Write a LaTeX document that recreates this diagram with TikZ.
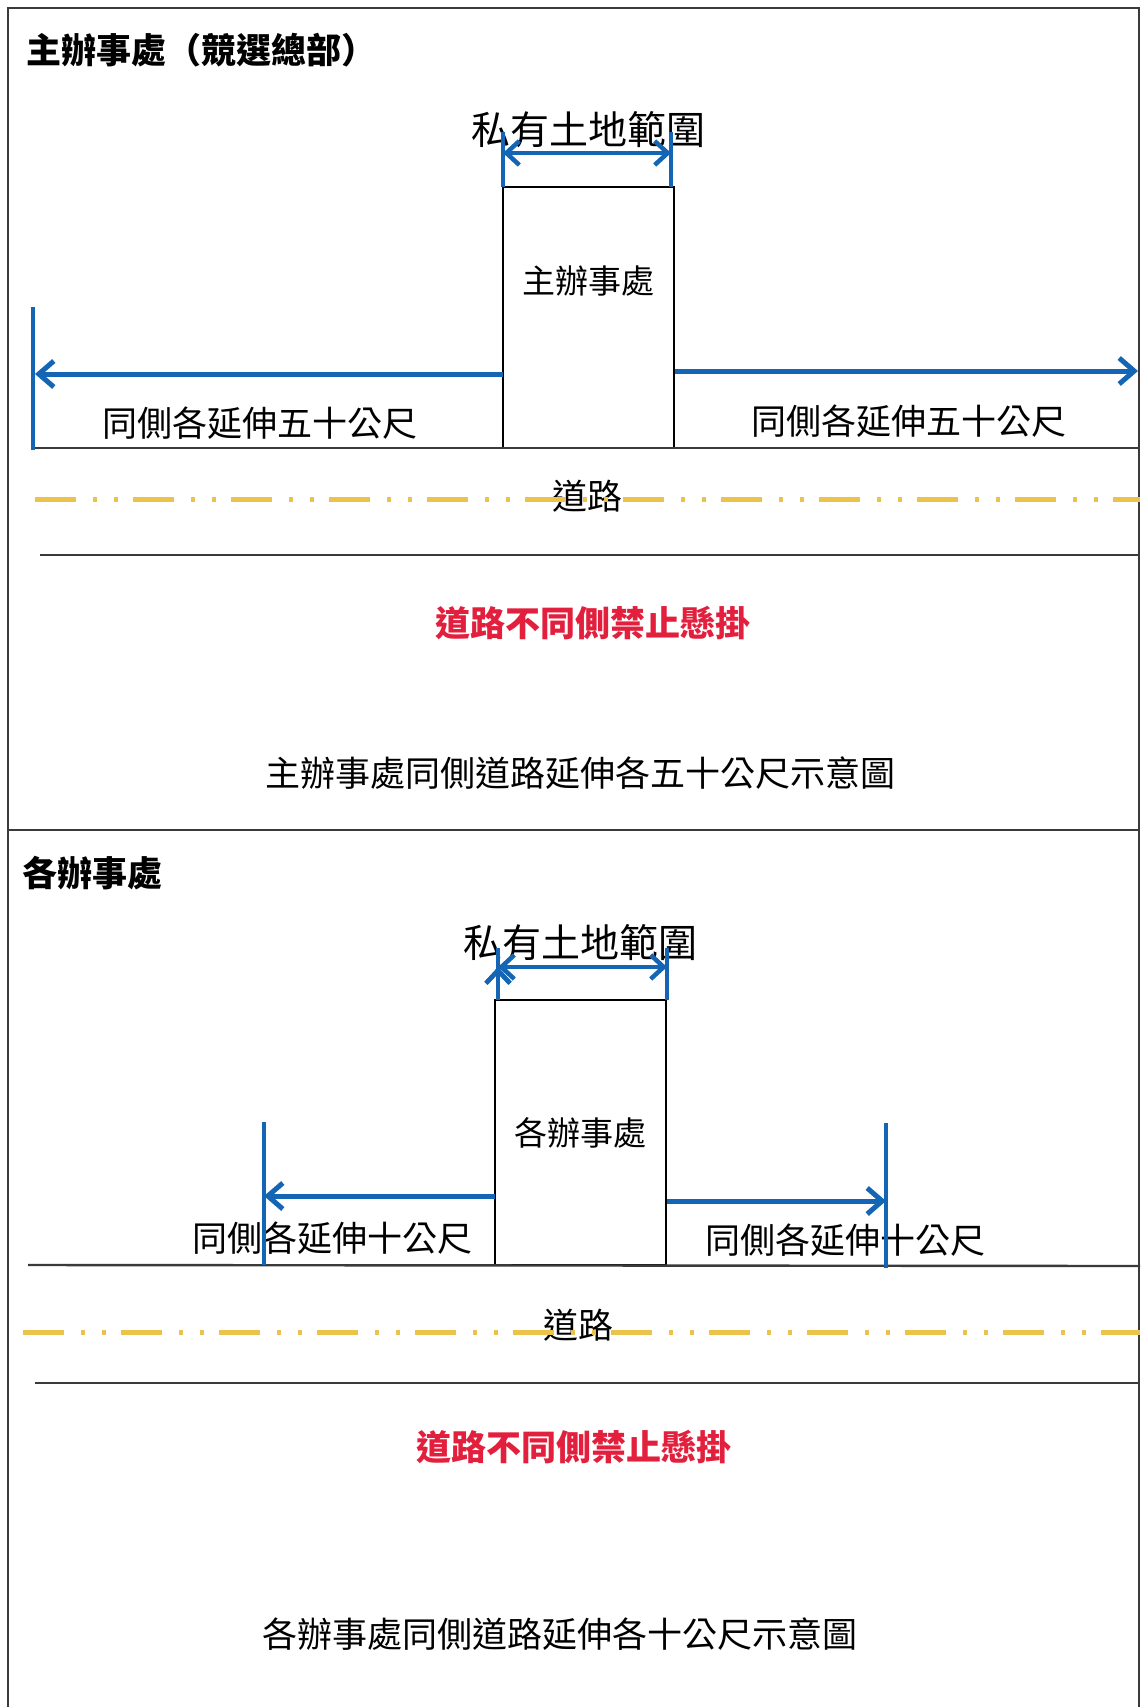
\documentclass[tikz,border=0pt]{standalone}
\usepackage{fontspec}
\usepackage{xcolor}
\usetikzlibrary{arrows.meta,positioning}
\newfontfamily\cjk{Noto Sans CJK TC}
\definecolor{lineBlue}{HTML}{1466B5}
\definecolor{roadGold}{HTML}{EBC24A}
\definecolor{warnRed}{HTML}{E2203E}
\definecolor{roadGrey}{HTML}{3A3A3A}

\begin{document}
\begin{tikzpicture}[x=1pt, y=-1pt,
        txt/.style={font=\cjk\fontsize{35}{38}\selectfont, inner sep=0},
        boxtxt/.style={font=\cjk\fontsize{33}{36}\selectfont, inner sep=0},
        landtxt/.style={font=\cjk\fontsize{39}{42}\selectfont, inner sep=0},
        headtxt/.style={font=\cjk\bfseries\fontsize{35}{38}\selectfont, inner sep=0, anchor=west},
        warntxt/.style={font=\cjk\bfseries\fontsize{35}{38}\selectfont, inner sep=0, text=warnRed},
        office/.style={draw=black, line width=1.6, inner sep=0, minimum width=171},
        tick/.style={draw=lineBlue, line width=4},
        reach/.style={draw=lineBlue, line width=5, -{Straight Barb[length=15, width=26]}},
        span/.style={draw=lineBlue, line width=4.5, {Straight Barb[length=13, width=24]}-{Straight Barb[length=13, width=24]}},
        road/.style={draw=roadGrey, line width=2.4},
        mid/.style={draw=roadGold, line width=5, dash pattern=on 41pt off 17pt on 4pt off 17pt on 4pt off 15pt},
        frame/.style={draw=roadGrey, line width=1.5}
    ]
                \useasboundingbox (0,0) rectangle (1140,1707);

                % frame and divider
                \coordinate (f1) at (8,1707);
                \coordinate (f2) at (8,8);
                \coordinate (f3) at (1139,8);
                \coordinate (f4) at (1139,1707);
                \coordinate (d1) at (8,830);
                \coordinate (d2) at (1139,830);
                \draw[frame] (f1) -- (f2) -- (f3) -- (f4);
                \draw[frame] (d1) -- (d2);

                % upper panel
                \node[headtxt] (title1) at (26,50) {主辦事處（競選總部）};
                \node[office, minimum height=261] (box1) at (588.5,317.5) {};
                \node[boxtxt] (name1) [below=79pt of box1.north] {主辦事處};
                \node[landtxt] (land1) [above=38pt of box1.north] {私有土地範圍};

                \coordinate (lt1) at (503,132);
                \coordinate (lb1) at (503,187);
                \coordinate (rt1) at (671,132);
                \coordinate (rb1) at (671,187);
                \coordinate (sl1) at (503,153);
                \coordinate (sr1) at (671,153);
                \coordinate (et1) at (33,307);
                \coordinate (eb1) at (33,450);
                \coordinate (ea1) at (503,374);
                \coordinate (ez1) at (35,374);
                \coordinate (fa1) at (675,371);
                \coordinate (fz1) at (1138,371);

                \node[txt] (left1) at (260,423) {同側各延伸五十公尺};
                \node[txt] (right1) at (909,421) {同側各延伸五十公尺};

                \coordinate (ra1) at (33,448);
                \coordinate (rz1) at (1140,448);
                \coordinate (ya1) at (35,499);
                \coordinate (yz1) at (1140,499);
                \coordinate (ba1) at (40,555);
                \coordinate (bz1) at (1140,555);
                \node[txt] (way1) at (587,496) {道路};
                \node[warntxt] (ban1) at (593,623) {道路不同側禁止懸掛};
                \node[txt] (cap1) at (580,773) {主辦事處同側道路延伸各五十公尺示意圖};

                % lower panel
                \node[headtxt] (title2) at (22,873) {各辦事處};
                \node[office, minimum height=265] (box2) at (580.5,1132.5) {};
                \node[boxtxt] (name2) [below=118pt of box2.north] {各辦事處};
                \node[landtxt] (land2) [above=38pt of box2.north] {私有土地範圍};

                \coordinate (lt2) at (498,948);
                \coordinate (lb2) at (498,1000);
                \coordinate (rt2) at (667,948);
                \coordinate (rb2) at (667,1000);
                \coordinate (sl2) at (498,967);
                \coordinate (sr2) at (667,967);
                \coordinate (et2) at (264,1122);
                \coordinate (eb2) at (264,1265);
                \coordinate (ft2) at (886,1123);
                \coordinate (fb2) at (886,1268);
                \coordinate (ea2) at (495,1196);
                \coordinate (ez2) at (264,1196);
                \coordinate (fa2) at (667,1201);
                \coordinate (fz2) at (886,1201);

                \node[txt] (left2) at (332,1238) {同側各延伸十公尺};
                \node[txt] (right2) at (845,1240) {同側各延伸十公尺};

                \coordinate (ra2) at (28,1265);
                \coordinate (rz2) at (1140,1266);
                \coordinate (ya2) at (23,1332);
                \coordinate (yz2) at (1140,1332);
                \coordinate (ba2) at (35,1383);
                \coordinate (bz2) at (1140,1383);
                \node[txt] (way2) at (578,1325) {道路};
                \node[warntxt] (ban2) at (574,1447) {道路不同側禁止懸掛};
                \node[txt] (cap2) at (560,1634) {各辦事處同側道路延伸各十公尺示意圖};

                \path[road]
                    (ra1) edge (rz1)
                    (ba1) edge (bz1)
                    (ra2) edge (rz2)
                    (ba2) edge (bz2)
                ;
                \path[mid]
                    (ya1) edge (yz1)
                    (ya2) edge (yz2)
                ;
                \path[tick]
                    (lt1) edge (lb1)
                    (rt1) edge (rb1)
                    (et1) edge (eb1)
                    (lt2) edge (lb2)
                    (rt2) edge (rb2)
                    (et2) edge (eb2)
                    (ft2) edge (fb2)
                ;
                \path[span]
                    (sl1) edge (sr1)
                    (sl2) edge (sr2)
                ;
                \draw[reach] (ea1) -- (ez1);
                \draw[reach] (fa1) -- (fz1);
                \draw[reach] (ea2) -- (ez2);
                \draw[reach] (fa2) -- (fz2);
            \end{tikzpicture}
\end{document}
